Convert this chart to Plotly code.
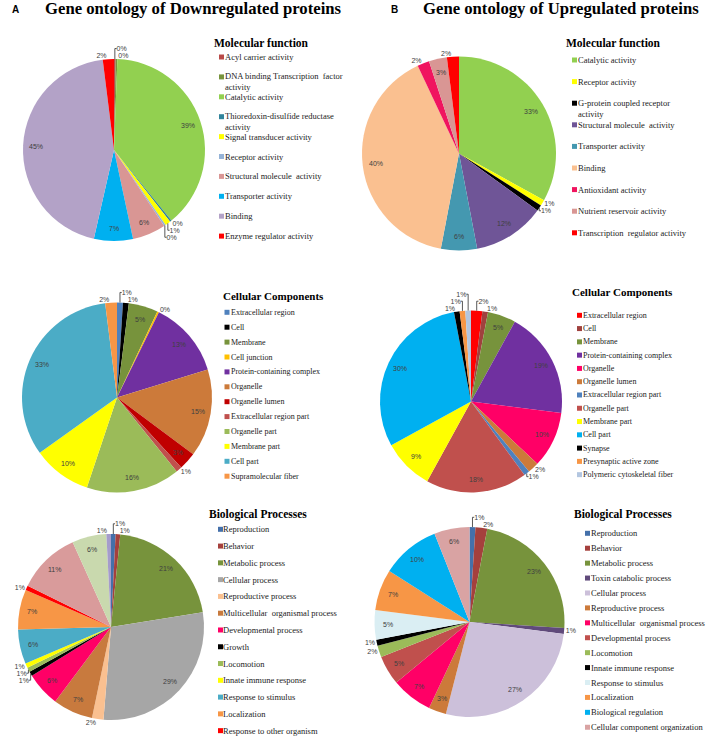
import math
import plotly.graph_objects as go

W, H = 708, 740

# ---------------- data ----------------
mf_down_labels = ["Acyl carrier activity", "DNA binding Transcription  factor<br>activity", "Catalytic activity",
                  "Thioredoxin-disulfide reductase<br>activity", "Signal transducer activity", "Receptor activity",
                  "Structural molecule  activity", "Transporter activity", "Binding", "Enzyme regulator activity"]
mf_down_values = [0.3, 0.3, 39, 0.3, 1, 0.3, 6, 7, 45, 2]
mf_down_colors = ["#B94A48", "#77933C", "#92D050", "#31849B", "#FFFF00", "#95B3D7", "#D99694", "#00B0F0",
                  "#B3A2C7", "#FF0000"]

mf_up_labels = ["Catalytic activity", "Receptor activity", "G-protein coupled receptor<br>activity",
                "Structural molecule  activity", "Transporter activity", "Binding", "Antioxidant activity",
                "Nutrient reservoir activity", "Transcription  regulator activity"]
mf_up_values = [33, 1, 1, 12, 6, 40, 2, 3, 2]
mf_up_colors = ["#92D050", "#FFFF00", "#000000", "#6F5597", "#4498B0", "#FAC090", "#F0145F", "#D99694", "#FF0000"]

cc_down_labels = ["Extracellular region", "Cell", "Membrane", "Cell junction", "Protein-containing complex",
                  "Organelle", "Organelle lumen", "Extracellular region part", "Organelle part", "Membrane part",
                  "Cell part", "Supramolecular fiber"]
cc_down_values = [1, 1, 5, 0.3, 13, 15, 3, 1, 16, 10, 33, 2]
cc_down_colors = ["#4F81BD", "#000000", "#77933C", "#FFC000", "#7030A0", "#CC7A3A", "#C00000", "#C0504D",
                  "#9BBB59", "#FFFF00", "#4BACC6", "#F79646"]

cc_up_labels = ["Extracellular region", "Cell", "Membrane", "Protein-containing complex", "Organelle",
                "Organelle lumen", "Extracellular region part", "Organelle part", "Membrane part", "Cell part",
                "Synapse", "Presynaptic active zone", "Polymeric cytoskeletal fiber"]
cc_up_values = [2, 1, 5, 19, 10, 2, 1, 18, 9, 30, 1, 1, 1]
cc_up_colors = ["#FF0000", "#A0413E", "#77933C", "#7030A0", "#FF0066", "#CC7A3A", "#4F81BD", "#C0504D",
                "#FFFF00", "#00B0F0", "#000000", "#F79646", "#B3C6E0"]

bp_down_labels = ["Reproduction", "Behavior", "Metabolic process", "Cellular process", "Reproductive process",
                  "Multicellular  organismal process", "Developmental process", "Growth", "Locomotion",
                  "Innate immune response", "Response to stimulus", "Localization", "Response to other organism",
                  "Biological regulation", "Cellular component organization", "Multi-organism process"]
bp_down_values = [0.8, 0.8, 21, 29, 2, 7, 6, 0.8, 0.8, 0.8, 6, 7, 0.8, 11, 6, 0.8]
bp_down_colors = ["#4470AA", "#A5403D", "#77933C", "#A6A6A6", "#FAC090", "#C87A3E", "#FF0066", "#000000",
                  "#9BBB59", "#FFFF00", "#4BACC6", "#F79646", "#FF0000", "#D99B9B", "#C9D9AE", "#A59CCB"]

bp_up_labels = ["Reproduction", "Behavior", "Metabolic process", "Toxin catabolic process", "Cellular process",
                "Reproductive process", "Multicellular  organismal process", "Developmental process", "Locomotion",
                "Innate immune response", "Response to stimulus", "Localization", "Biological regulation",
                "Cellular component organization"]
bp_up_values = [1, 2, 23, 1, 27, 3, 7, 5, 2, 1, 5, 7, 10, 6]
bp_up_colors = ["#4470AA", "#A5403D", "#77933C", "#604A7B", "#CCC0DA", "#CC7A3A", "#FF0066", "#C0504D",
                "#9BBB59", "#000000", "#DAEEF3", "#F79646", "#00B0F0", "#D9A3A3"]

# ---------------- layout of panels (pixels) ----------------
panels = [
    dict(title="Molecular function", labels=mf_down_labels, values=mf_down_values, colors=mf_down_colors,
         cx=114, cy=150, r=91, lx=214, ty=43, y0=57, dy=19.9, sq=5, tx=11, fs=8.5, tfs=11.5),
    dict(title="Molecular function", labels=mf_up_labels, values=mf_up_values, colors=mf_up_colors,
         cx=459, cy=153.5, r=97, lx=566, ty=43, y0=60, dy=21.6, sq=6, tx=12, fs=8.5, tfs=11.5),
    dict(title="Cellular Components", labels=cc_down_labels, values=cc_down_values, colors=cc_down_colors,
         cx=117, cy=397.5, r=95, lx=223, ty=295.7, y0=312.3, dy=14.9, sq=1.5, tx=8, fs=8, tfs=11),
    dict(title="Cellular Components", labels=cc_up_labels, values=cc_up_values, colors=cc_up_colors,
         cx=471, cy=401.5, r=91, lx=572, ty=292.3, y0=315.3, dy=13.28, sq=5, tx=10.5, fs=8, tfs=11),
    dict(title="Biological Processes", labels=bp_down_labels, values=bp_down_values, colors=bp_down_colors,
         cx=111, cy=627, r=93, lx=209, ty=514, y0=529.3, dy=16.78, sq=9, tx=14, fs=8.5, tfs=11.5),
    dict(title="Biological Processes", labels=bp_up_labels, values=bp_up_values, colors=bp_up_colors,
         cx=469.5, cy=622, r=95, lx=574, ty=514.3, y0=533.3, dy=14.92, sq=11, tx=16.5, fs=8.5, tfs=11.5),
]


def fx(x):
    return x / W


def fy(y):
    return 1 - y / H


LABEL_FONT = dict(size=7, color="#404040", family="Liberation Sans")
SERIF = "Liberation Serif"

fig = go.Figure()
annotations = []
shapes = []

for p in panels:
    vals = p["values"]
    total = sum(vals)
    small = [v < 2.5 for v in vals]
    fig.add_trace(go.Pie(
        labels=p["labels"], values=vals, sort=False, direction="clockwise", rotation=0,
        marker=dict(colors=p["colors"], line=dict(width=0)),
        text=[f"{round(v)}%" if s else "" for v, s in zip(vals, small)],
        textinfo="text",
        textposition=["outside" if s else "none" for s in small],
        outsidetextfont=LABEL_FONT,
        domain=dict(x=[fx(p["cx"] - p["r"]), fx(p["cx"] + p["r"])],
                    y=[fy(p["cy"] + p["r"]), fy(p["cy"] - p["r"])]),
        hoverinfo="label+percent", showlegend=False,
    ))
    # percentage labels for the larger slices, placed near the rim
    cum = 0.0
    for v, s in zip(vals, small):
        mid = (cum + v / 2) / total * 2 * math.pi
        cum += v
        if s:
            continue
        k = 0.86
        x = p["cx"] + k * p["r"] * math.sin(mid)
        y = p["cy"] - k * p["r"] * math.cos(mid)
        annotations.append(dict(x=fx(x), y=fy(y), xref="paper", yref="paper", text=f"{round(v)}%",
                                showarrow=False, font=LABEL_FONT, xanchor="center", yanchor="middle",
                                borderpad=0, borderwidth=0))
    # legend title
    annotations.append(dict(x=fx(p["lx"]), y=fy(p["ty"]), xref="paper", yref="paper",
                            text=f"<b>{p['title']}</b>", showarrow=False, xanchor="left", yanchor="middle",
                            font=dict(family=SERIF, size=p["tfs"], color="#000000"), borderpad=0, borderwidth=0))
    # legend entries (entries that would fall below the page are left out, as in the original)
    for i, (lab, col) in enumerate(zip(p["labels"], p["colors"])):
        yc = p["y0"] + i * p["dy"]
        if yc > H - 6:
            continue
        nlines = lab.count("<br>") + 1
        ytext = yc + (nlines - 1) * 0.6 * p["fs"]
        shapes.append(dict(type="rect", xref="paper", yref="paper",
                           x0=fx(p["lx"] + p["sq"]), x1=fx(p["lx"] + p["sq"] + 5),
                           y0=fy(yc + 2.5), y1=fy(yc - 2.5), fillcolor=col, line=dict(width=0)))
        annotations.append(dict(x=fx(p["lx"] + p["tx"]), y=fy(ytext), xref="paper", yref="paper",
                                text=lab, showarrow=False, xanchor="left", yanchor="middle", align="left",
                                font=dict(family=SERIF, size=p["fs"], color="#222222"),
                                borderpad=0, borderwidth=0))

# panel headers
annotations += [
    dict(x=fx(10), y=fy(10), xref="paper", yref="paper", text="<b>A</b>", showarrow=False, xanchor="left",
         yanchor="middle", font=dict(family="Liberation Sans", size=10, color="#000000")),
    dict(x=fx(43), y=fy(9), xref="paper", yref="paper", text="<b>Gene ontology of Downregulated proteins</b>",
         showarrow=False, xanchor="left", yanchor="middle", font=dict(family=SERIF, size=16.7, color="#000000")),
    dict(x=fx(389), y=fy(10), xref="paper", yref="paper", text="<b>B</b>", showarrow=False, xanchor="left",
         yanchor="middle", font=dict(family="Liberation Sans", size=10, color="#000000")),
    dict(x=fx(421), y=fy(9), xref="paper", yref="paper", text="<b>Gene ontology of Upregulated proteins</b>",
         showarrow=False, xanchor="left", yanchor="middle", font=dict(family=SERIF, size=16.7, color="#000000")),
]

fig.update_layout(
    width=W, height=H,
    margin=dict(l=0, r=0, t=0, b=0, autoexpand=False),
    paper_bgcolor="#FFFFFF", plot_bgcolor="#FFFFFF",
    showlegend=False,
    annotations=annotations,
    shapes=shapes,
)

fig.write_html("out.html", config={"displayModeBar": False},
               post_script="document.body.style.margin='0px';")
